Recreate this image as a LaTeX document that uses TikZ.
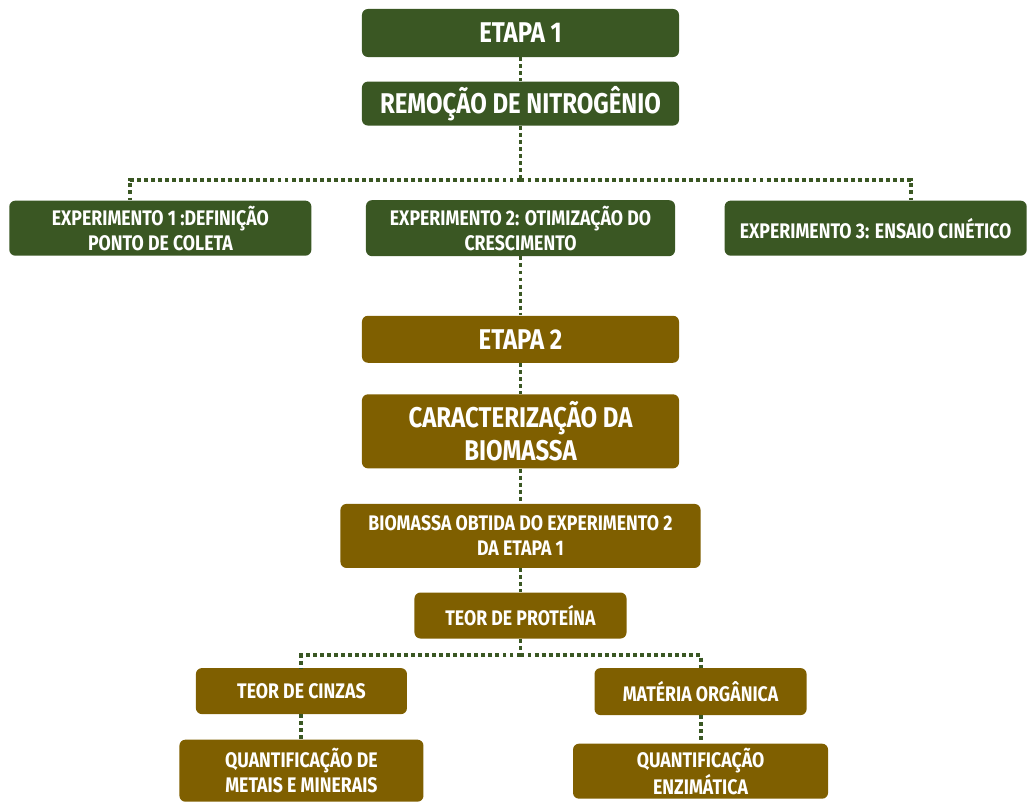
\documentclass[tikz,border=0pt]{standalone}
\usepackage{fontspec}
\setmainfont{Fira Sans}[FakeStretch=0.84]
\usepackage{xcolor}
\usepackage{tikz}
\usetikzlibrary{positioning,calc}
\definecolor{leaf}{HTML}{3A5723}
\definecolor{earth}{HTML}{7F5F00}

\begin{document}
\begin{tikzpicture}[
x=0.025cm,y=-0.025cm,
gbox/.style={fill=leaf,rounded corners=1.5mm,text=white,align=center,font=\bfseries\fontsize{15}{17.8}\selectfont,inner sep=0pt},
bbox/.style={gbox,fill=earth},
big/.style={font=\bfseries\fontsize{20.3}{23.5}\selectfont},
link/.style={draw=leaf,line width=2.8pt,dash pattern=on 2.8pt off 2.2pt}
]
\useasboundingbox (0,0) rectangle (1028,802);
% etapa 1
\node[gbox,big,minimum width=79.25mm,minimum height=12mm] (etapa1) at (520.5,33) {ETAPA 1};
\node[gbox,big,minimum width=79.25mm,minimum height=11mm,below=6mm of etapa1] (remocao) {REMOÇÃO DE NITROGÊNIO};
\node[gbox,minimum width=77.25mm,minimum height=14mm,below=18.5mm of remocao] (exp2) {EXPERIMENTO 2: OTIMIZAÇÃO DO\\CRESCIMENTO};
\node[gbox,minimum width=75.5mm,minimum height=13.75mm,left=13.5mm of exp2] (exp1) {EXPERIMENTO 1 :DEFINIÇÃO\\PONTO DE COLETA};
\node[gbox,minimum width=75.5mm,minimum height=13.75mm,right=12.25mm of exp2] (exp3) {EXPERIMENTO 3: ENSAIO CINÉTICO};
% etapa 2
\node[bbox,big,minimum width=79.25mm,minimum height=11.75mm,below=14.75mm of exp2] (etapa2) {ETAPA 2};
\node[bbox,big,minimum width=79.25mm,minimum height=18.5mm,below=7.75mm of etapa2] (carac) {CARACTERIZAÇÃO DA\\BIOMASSA};
\node[bbox,minimum width=90mm,minimum height=16mm,below=8.75mm of carac] (obtida) {BIOMASSA OBTIDA DO EXPERIMENTO 2\\DA ETAPA 1};
\node[bbox,minimum width=53mm,minimum height=11.5mm,below=6mm of obtida] (proteina) {TEOR DE PROTEÍNA};
\node[bbox,minimum width=52.75mm,minimum height=11.5mm,below=7.25mm of proteina,xshift=-54.75mm] (cinzas) {TEOR DE CINZAS};
\node[bbox,minimum width=53mm,minimum height=11.75mm,below=7.25mm of proteina,xshift=45mm] (materia) {MATÉRIA ORGÂNICA};
\node[bbox,minimum width=61mm,minimum height=15.5mm,below=6.25mm of cinzas] (metais) {QUANTIFICAÇÃO DE\\METAIS E MINERAIS};
\node[bbox,minimum width=63.75mm,minimum height=13.75mm,below=7mm of materia] (enzima) {QUANTIFICAÇÃO\\ENZIMÁTICA};
% ligacoes
\draw[link] (etapa1)--(remocao);
\draw[link] (remocao.south)--++(0,-13.5mm) coordinate (hub1);
\draw[link] (hub1) -| ([xshift=-7.5mm]exp1.north);
\draw[link] (hub1) -| ([xshift=8.75mm]exp3.north);
\draw[link] (exp2)--(etapa2);
\draw[link] (etapa2)--(carac);
\draw[link] (carac)--(obtida);
\draw[link] (obtida)--(proteina);
\draw[link] (proteina.south)--++(0,-4mm) coordinate (hub2);
\draw[link] (hub2) -| (cinzas.north);
\draw[link] (hub2) -| (materia.north);
\draw[link] (cinzas)--(metais);
\draw[link] (materia)--(enzima);
\end{tikzpicture}
\end{document}
